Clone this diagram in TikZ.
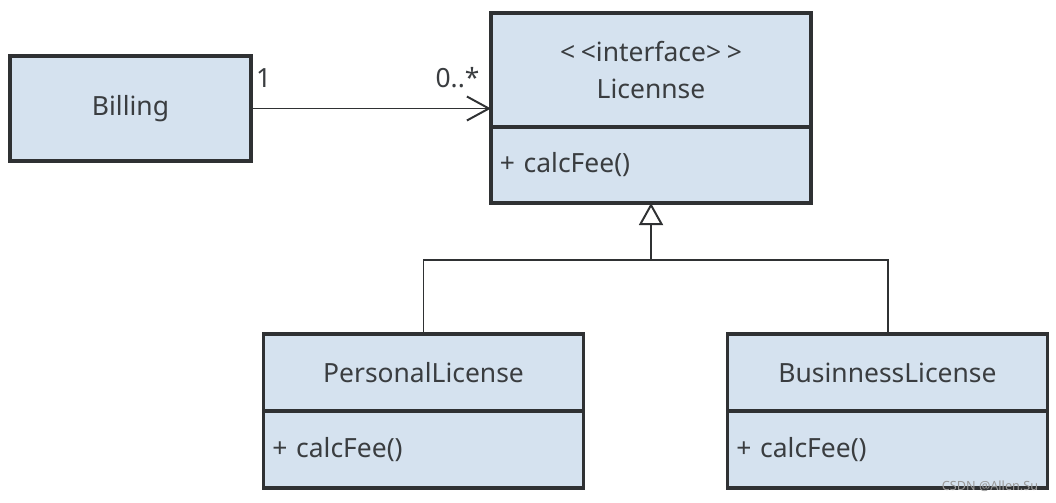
\documentclass[tikz,border=0pt]{standalone}
\usepackage{fontspec}
\setmainfont{Noto Sans}
\usetikzlibrary{positioning,arrows.meta}
\definecolor{umlfill}{HTML}{D5E2EF}
\definecolor{umlline}{HTML}{2F3133}
\definecolor{umltext}{HTML}{3A3D40}
\tikzset{
	cls/.style={draw=umlline,fill=umlfill,line width=2.4pt,text=umltext,font=\fontsize{18.8}{27}\selectfont,align=center,inner sep=0pt,outer sep=0pt,minimum width=8cm},
	meth/.style={cls,align=left,inner xsep=0.22cm,text width=7.56cm},
	conn/.style={draw=umlline,line width=1.4pt},
	mult/.style={text=umltext,font=\fontsize{18.8}{22}\selectfont,inner sep=0pt}
}
\begin{document}
\begin{tikzpicture}[x=0.025cm,y=-0.025cm,line join=miter, >={Straight Barb[length=5.5mm,width=6mm]}]
	\useasboundingbox (0,0) rectangle (1056,502);
	\coordinate (B) at (130.5,108.5);
	\coordinate (L) at (651,70);
	\coordinate (P) at (423.5,372.5);
	\coordinate (S) at (887.5,372.5);
	\node[cls,minimum width=6.025cm,minimum height=2.625cm] (bil) at (B) {Billing};
	\node[cls,minimum height=2.85cm] (lic) at (L) {<\kern4pt<interface>\kern4pt>\\Licennse};
	\node[meth,minimum height=1.9cm,below=0pt of lic] (licm) {+ calcFee()};
	\node[cls,minimum height=1.925cm] (pers) at (P) {PersonalLicense};
	\node[meth,minimum height=1.925cm,below=0pt of pers] (persm) {+ calcFee()};
	\node[cls,minimum height=1.925cm] (bus) at (S) {BusinnessLicense};
	\node[meth,minimum height=1.925cm,below=0pt of bus] (busm) {+ calcFee()};
	\draw[conn,->] (bil.east) -- (lic.west |- bil.east);
	\node[mult,above right=0.52cm and 0.12cm of bil.east] (m1) {1};
	\node[mult,above left=0.52cm and 0.28cm of lic.west |- bil.east] (m2) {0..*};
	\coordinate (fork) at (651,260);
	\draw[conn,-{Triangle[open,length=5.5mm,width=6mm,fill=white]}] (pers.north) |- (fork) -- (licm.south);
	\draw[conn] (bus.north) |- (fork);
	\node[text=black!40,font=\fontsize{9}{10}\selectfont,inner sep=0pt] (wm) at (990,486) {CSDN @Allen.Su};
\end{tikzpicture}
\end{document}
